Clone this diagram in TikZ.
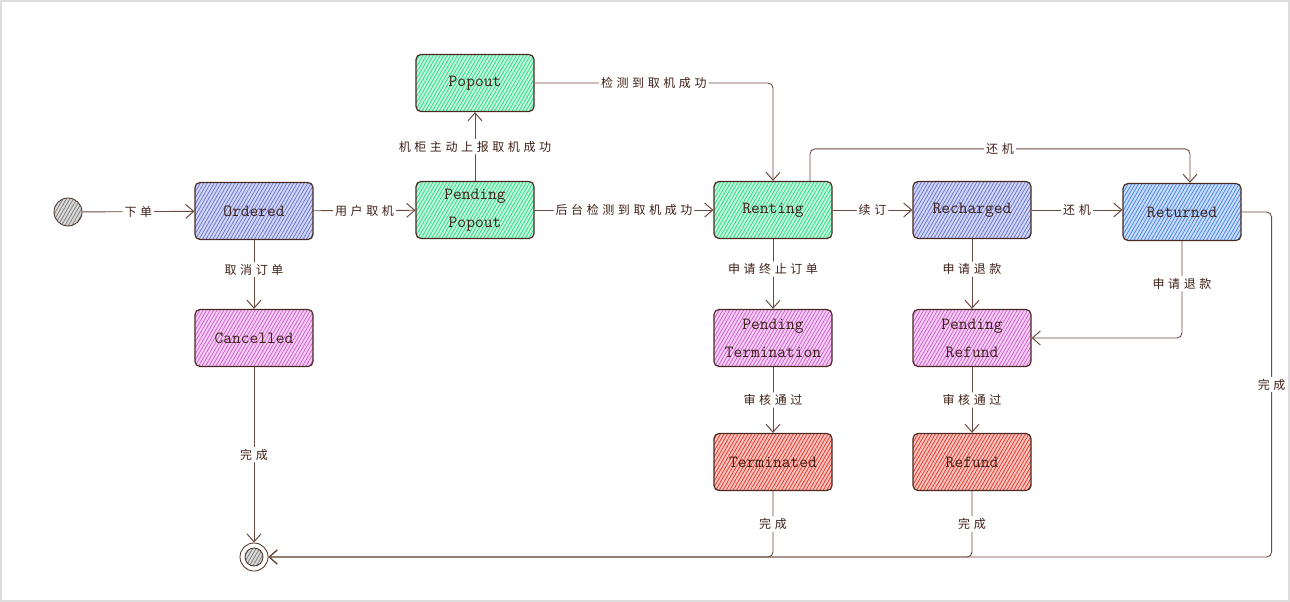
\documentclass[tikz,border=0pt]{standalone}
\usepackage{fontspec}
\newfontfamily\cjk[LetterSpace=30]{Noto Sans CJK SC}
\usetikzlibrary{arrows.meta,patterns.meta,calc}
\definecolor{ink}{HTML}{4A2A20}
\definecolor{wire}{HTML}{6B4A40}
\definecolor{txt}{HTML}{3E2018}
\definecolor{cgreen}{HTML}{30E088}
\definecolor{cviolet}{HTML}{6878D8}
\definecolor{cblue}{HTML}{4A8AF0}
\definecolor{cpink}{HTML}{D860D8}
\definecolor{cred}{HTML}{F03A2A}
\definecolor{framegray}{HTML}{DDDDDD}
\begin{document}
\begin{tikzpicture}[x=1pt,y=-1pt,
  hatch/.style={preaction={fill=#1!28}, pattern={Lines[angle=60,distance=3pt,line width=0.85pt]}, pattern color=#1},
  statebox/.style={draw=ink, line width=1.2pt, rounded corners=5pt, minimum width=118pt, minimum height=57pt,
    inner sep=2pt, align=center, font=\ttfamily\fontsize{17}{28}\selectfont, text=txt},
  lbl/.style={fill=white, inner sep=2pt, font=\cjk\fontsize{12}{12}\selectfont, text=txt},
  edge/.style={draw=wire, line width=0.9pt, rounded corners=5pt,
    -{Straight Barb[length=8pt,width=14pt,line width=1pt]}}]
\useasboundingbox (0,0) rectangle (1290,602);
\draw[framegray, line width=2pt] (1,1) rectangle (1289,601);

% states
\node[circle, minimum size=28pt, draw=ink, line width=0.8pt, hatch=gray] (start) at (68,212) {};
\node[circle, minimum size=28pt, draw=ink, line width=0.8pt] (end) at (254,557) {};
\node[circle, minimum size=18pt, draw=ink, line width=0.8pt, hatch=gray] (endin) at (254,557) {};

\node[statebox, hatch=cviolet] (ord) at (254,211) {Ordered};
\node[statebox, hatch=cpink] (canc) at (254,338) {Cancelled};
\node[statebox, hatch=cgreen] (pop) at (475,83) {Popout};
\node[statebox, hatch=cgreen] (pp) at (475,210) {Pending\\Popout};
\node[statebox, hatch=cgreen] (rent) at (773,210) {Renting};
\node[statebox, hatch=cviolet] (rech) at (972,210) {Recharged};
\node[statebox, hatch=cblue] (ret) at (1182,212) {Returned};
\node[statebox, hatch=cpink] (pterm) at (773,338) {Pending\\Termination};
\node[statebox, hatch=cpink] (pref) at (972,338) {Pending\\Refund};
\node[statebox, hatch=cred] (term) at (773,462) {Terminated};
\node[statebox, hatch=cred] (refund) at (972,462) {Refund};

% transitions
\draw[edge] (start) -- node[lbl]{下单} (ord);
\draw[edge] (ord) -- node[lbl]{用户取机} (pp);
\draw[edge] (ord) -- node[lbl,pos=0.43]{取消订单} (canc);
\draw[edge] (pp) -- node[lbl]{机柜主动上报取机成功} (pop);
\draw[edge] (pp) -- node[lbl]{后台检测到取机成功} (rent);
\draw[edge] (pop) -| node[lbl,pos=0.25]{检测到取机成功} (rent);
\draw[edge] (rent) -- node[lbl]{续订} (rech);
\draw[edge] (rech.east) -- node[lbl]{还机} (rech.east -| ret.west);
\draw[edge] ([xshift=37pt]rent.north) -- ++(0,-32) -| node[lbl,pos=0.25]{还机} ([xshift=8pt]ret.north);
\draw[edge] (rent) -- node[lbl,pos=0.43]{申请终止订单} (pterm);
\draw[edge] (rech) -- node[lbl,pos=0.43]{申请退款} (pref);
\draw[edge] (ret) |- node[lbl,pos=0.22]{申请退款} (pref);
\draw[edge] (pterm) -- node[lbl]{审核通过} (term);
\draw[edge] (pref) -- node[lbl]{审核通过} (refund);
\draw[edge] (canc) -- node[lbl]{完成} (end);
\draw[edge] (term) |- node[lbl,pos=0.25]{完成} (end);
\draw[edge] (refund) |- node[lbl,pos=0.25]{完成} (end);
\draw[edge] (ret.east) -- ++(30,0) |- node[lbl,pos=0.25]{完成} (end);
\end{tikzpicture}
\end{document}
